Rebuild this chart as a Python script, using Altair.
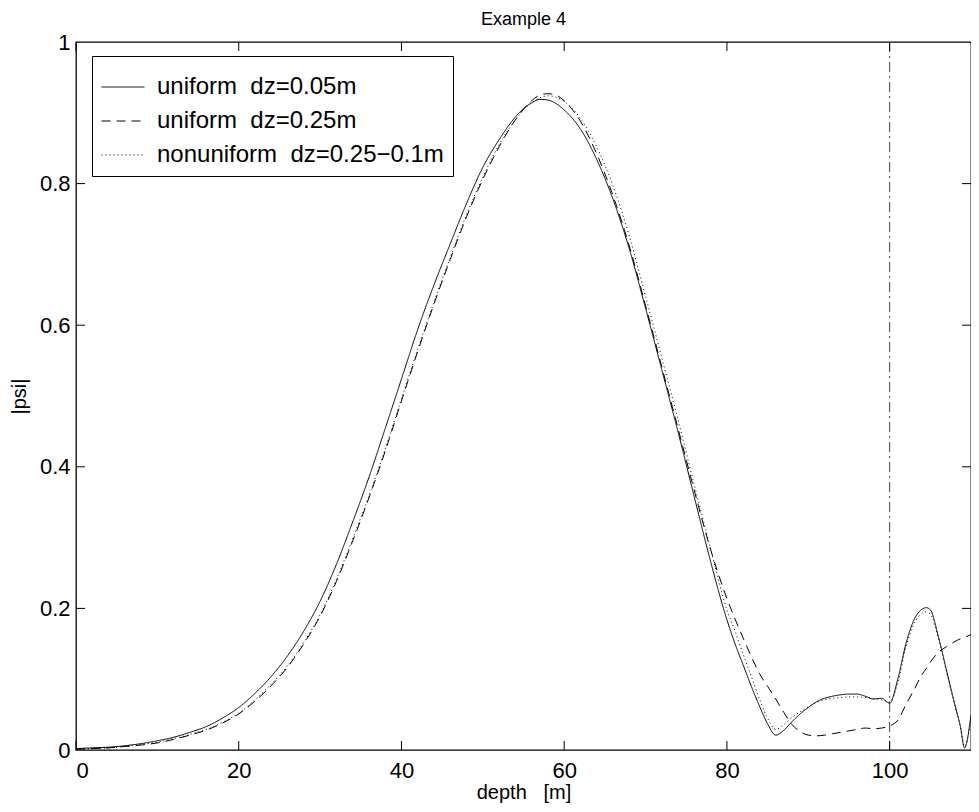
import altair as alt
import pandas as pd

# ---- data ----
depth = [0, 2, 4, 6, 8, 10, 12, 14, 16, 18, 20, 22, 24, 26, 28, 30, 32, 34, 36, 38,
         40, 42, 44, 46, 48, 50, 52, 54, 55, 56, 57, 58, 59, 60, 62, 64, 66, 68, 70,
         72, 74, 76, 78, 80, 81, 82, 83, 84, 85, 86, 87, 88, 89, 90, 91, 92, 93, 94,
         95, 96, 97, 98, 99, 100, 101, 102, 103, 104, 104.5, 105, 106, 107, 108,
         108.7, 109.2, 110]

psi_uniform_005 = [.002, .003, .004, .006, .009, .013, .018, .025, .033, .045, .060, .080,
                   .104, .133, .168, .210, .262, .322, .385, .454, .524, .594, .657, .715,
                   .772, .823, .862, .894, .906, .914, .919, .918, .913, .904, .877, .834,
                   .778, .708, .624, .537, .449, .357, .266, .184, .150, .120, .090, .062,
                   .037, .021, .028, .040, .051, .060, .068, .073, .076, .078, .079, .079,
                   .076, .072, .073, .066, .100, .150, .184, .199, .201, .198, .160, .112,
                   .065, .033, .003, .050]

psi_uniform_025 = [.001, .002, .003, .005, .007, .010, .015, .021, .028, .038, .051, .069,
                   .091, .117, .150, .189, .238, .295, .356, .422, .493, .563, .630, .693,
                   .753, .806, .852, .890, .905, .917, .925, .927, .925, .917, .888, .842,
                   .783, .712, .628, .541, .454, .366, .283, .214, .185, .158, .132, .108,
                   .090, .072, .053, .036, .026, .021, .020, .021, .023, .025, .027, .029,
                   .031, .030, .031, .034, .042, .064, .085, .107, .115, .124, .138, .146,
                   .153, .157, .159, .163]

psi_nonuniform = [.001, .002, .003, .005, .008, .011, .016, .022, .029, .039, .052, .071,
                  .093, .119, .152, .191, .241, .298, .359, .425, .496, .566, .633, .696,
                  .756, .809, .855, .890, .904, .914, .921, .924, .922, .916, .892, .852,
                  .797, .726, .641, .554, .466, .374, .284, .198, .168, .135, .104, .072,
                  .045, .029, .036, .046, .054, .061, .067, .071, .073, .074, .075, .075,
                  .074, .073, .071, .068, .095, .145, .178, .193, .195, .192, .157, .110,
                  .063, .032, .005, .045]

series_names = ["uniform\u00a0\u00a0dz=0.05m",
                "uniform\u00a0\u00a0dz=0.25m",
                "nonuniform\u00a0\u00a0dz=0.25\u22120.1m"]

x_ticks = [0, 20, 40, 60, 80, 100]
y_ticks = [0, 0.2, 0.4, 0.6, 0.8, 1]
boundary_depth = [100]

# ---- build table ----
rows = []
for name, ys in zip(series_names, [psi_uniform_005, psi_uniform_025, psi_nonuniform]):
    for order, (xv, yv) in enumerate(zip(depth, ys)):
        rows.append({"series": name, "depth": xv, "psi": yv, "order": order})
df = pd.DataFrame(rows)

W, H = 895, 708
FONT = "Liberation Sans"

xscale = alt.Scale(domain=[0, 110], nice=False, zero=False)
yscale = alt.Scale(domain=[0, 1], nice=False, zero=False)

lines = alt.Chart(df).mark_line(strokeWidth=1, color="black", interpolate="monotone", clip=True).encode(
    x=alt.X("depth:Q", scale=xscale,
            axis=alt.Axis(title="depth\u00a0\u00a0\u00a0[m]", values=x_ticks, grid=False, ticks=False,
                          domain=False, labelPadding=10, titlePadding=1)),
    y=alt.Y("psi:Q", scale=yscale,
            axis=alt.Axis(title="|psi|", values=y_ticks, format="~g", grid=False, ticks=False,
                          domain=False, labelPadding=6, titlePadding=10)),
    strokeDash=alt.StrokeDash("series:N",
                              scale=alt.Scale(domain=series_names, range=[[1, 0], [9, 6], [1, 3]]),
                              legend=alt.Legend(title=None, orient="none", legendX=16, legendY=14,
                                                fillColor="white", strokeColor="black",
                                                padding=9, symbolType="stroke", symbolSize=1849,
                                                symbolStrokeColor="black", symbolStrokeWidth=1,
                                                labelOffset=12, rowPadding=-14,
                                                labelFontSize=24, labelFont=FONT, labelLimit=500)),
    order="order:Q",
)

vline = alt.Chart(pd.DataFrame({"d": boundary_depth})).mark_rule(
    color="#444", strokeWidth=1, strokeDash=[10, 4, 2, 4]).encode(
    x=alt.X("d:Q", scale=xscale))

xt = pd.DataFrame({"t": x_ticks})
yt = pd.DataFrame({"t": y_ticks[1:-1]})
tick_bottom = alt.Chart(xt).mark_rule(color="black", strokeWidth=1).encode(
    x=alt.X("t:Q", scale=xscale), y=alt.value(H), y2=alt.value(H - 9))
tick_top = alt.Chart(xt).mark_rule(color="black", strokeWidth=1).encode(
    x=alt.X("t:Q", scale=xscale), y=alt.value(0), y2=alt.value(9))
tick_left = alt.Chart(yt).mark_rule(color="black", strokeWidth=1).encode(
    y=alt.Y("t:Q", scale=yscale), x=alt.value(0), x2=alt.value(9))
tick_right = alt.Chart(yt).mark_rule(color="black", strokeWidth=1).encode(
    y=alt.Y("t:Q", scale=yscale), x=alt.value(W), x2=alt.value(W - 9))

chart = alt.layer(vline, tick_bottom, tick_top, tick_left, tick_right, lines).properties(
    width=W, height=H,
    background="white",
    title=alt.Title("Example 4", fontSize=18, font=FONT, fontWeight="normal", offset=2),
    autosize=alt.AutoSizeParams(type="none"),
    padding={"left": 68, "top": 34, "right": 0, "bottom": 54},
).configure_view(stroke="black", strokeWidth=1.3).configure_axis(
    labelFont=FONT, labelFontSize=22, titleFont=FONT, titleFontSize=20,
    titleFontWeight="normal", labelColor="black", titleColor="black"
)

chart.save("out.html", embed_options={"renderer": "svg", "actions": False})
